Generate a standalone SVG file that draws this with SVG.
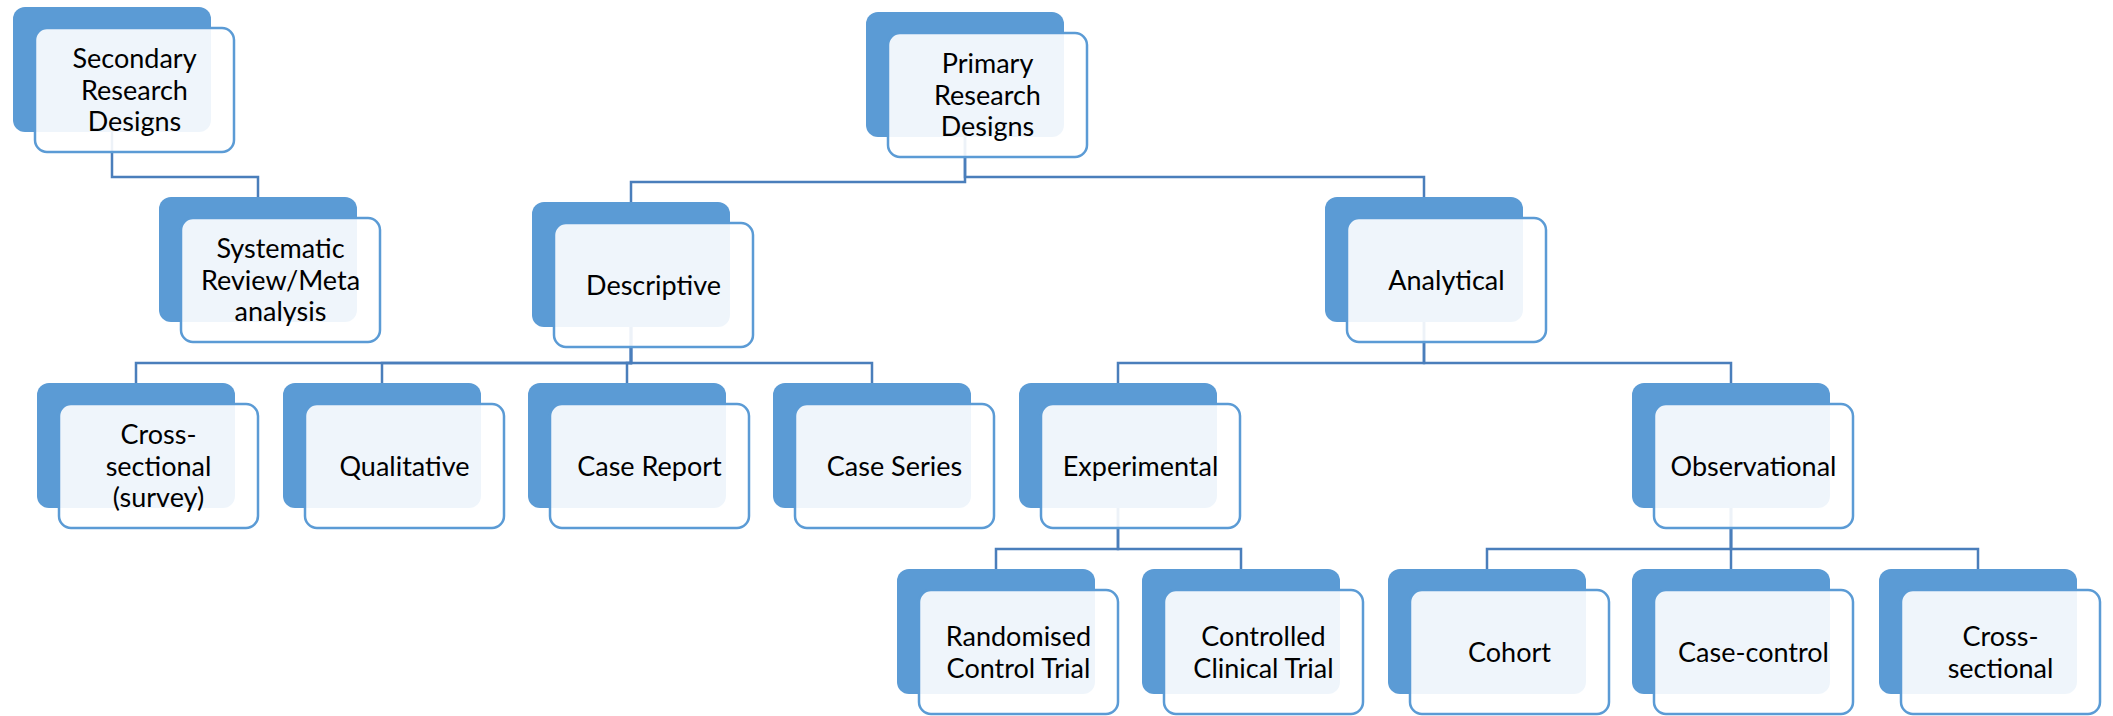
<svg xmlns="http://www.w3.org/2000/svg" width="2113" height="716" viewBox="0 0 2113 716">
<style>
.back{fill:#5B9BD5;}
.front{fill:#FFFFFF;fill-opacity:0.9;stroke:#5B9BD5;stroke-width:2.5;}
.lbl{font-family:Lato,"Liberation Sans",sans-serif;font-size:27px;fill:#000000;text-anchor:middle;}
.conn{fill:none;stroke:#4A7EBB;stroke-width:2.5;}
</style>
<rect width="2113" height="716" fill="#FFFFFF"/>
<g id="connectors">
<path class="conn" d="M112,132 V177 H258 V197"/>
<path class="conn" d="M965,137 V182 H631 V202"/>
<path class="conn" d="M965,137 V177 H1424 V197"/>
<path class="conn" d="M631,327 V363 H136 V383"/>
<path class="conn" d="M631,327 V363 H382 V383"/>
<path class="conn" d="M631,327 V363 H627 V383"/>
<path class="conn" d="M631,327 V363 H872 V383"/>
<path class="conn" d="M1424,322 V363 H1118 V383"/>
<path class="conn" d="M1424,322 V363 H1731 V383"/>
<path class="conn" d="M1118,508 V549 H996 V569"/>
<path class="conn" d="M1118,508 V549 H1241 V569"/>
<path class="conn" d="M1731,508 V549 H1487 V569"/>
<path class="conn" d="M1731,508 V569"/>
<path class="conn" d="M1731,508 V549 H1978 V569"/>
</g>
<g id="secondary">
<rect class="back" x="13" y="7" width="198" height="125" rx="12"/>
<rect class="front" x="35" y="28" width="199" height="124" rx="12"/>
<text class="lbl" x="134.5"><tspan x="134.5" y="68">Secondary</tspan><tspan x="134.5" y="99.5">Research</tspan><tspan x="134.5" y="131">Designs</tspan></text>
</g>
<g id="primary">
<rect class="back" x="866" y="12" width="198" height="125" rx="12"/>
<rect class="front" x="888" y="33" width="199" height="124" rx="12"/>
<text class="lbl"><tspan x="987.5" y="73">Primary</tspan><tspan x="987.5" y="104.5">Research</tspan><tspan x="987.5" y="136">Designs</tspan></text>
</g>
<g id="systematic">
<rect class="back" x="159" y="197" width="198" height="125" rx="12"/>
<rect class="front" x="181" y="218" width="199" height="124" rx="12"/>
<text class="lbl"><tspan x="280.5" y="258">Systematic</tspan><tspan x="280.5" y="289.5">Review/Meta</tspan><tspan x="280.5" y="321">analysis</tspan></text>
</g>
<g id="descriptive">
<rect class="back" x="532" y="202" width="198" height="125" rx="12"/>
<rect class="front" x="554" y="223" width="199" height="124" rx="12"/>
<text class="lbl" x="653.5" y="294.5">Descriptive</text>
</g>
<g id="analytical">
<rect class="back" x="1325" y="197" width="198" height="125" rx="12"/>
<rect class="front" x="1347" y="218" width="199" height="124" rx="12"/>
<text class="lbl" x="1446.5" y="289.5">Analytical</text>
</g>
<g id="cross-sectional-survey">
<rect class="back" x="37" y="383" width="198" height="125" rx="12"/>
<rect class="front" x="59" y="404" width="199" height="124" rx="12"/>
<text class="lbl"><tspan x="158.5" y="444">Cross-</tspan><tspan x="158.5" y="475.5">sectional</tspan><tspan x="158.5" y="507">(survey)</tspan></text>
</g>
<g id="qualitative">
<rect class="back" x="283" y="383" width="198" height="125" rx="12"/>
<rect class="front" x="305" y="404" width="199" height="124" rx="12"/>
<text class="lbl" x="404.5" y="475.5">Qualitative</text>
</g>
<g id="case-report">
<rect class="back" x="528" y="383" width="198" height="125" rx="12"/>
<rect class="front" x="550" y="404" width="199" height="124" rx="12"/>
<text class="lbl" x="649.5" y="475.5">Case Report</text>
</g>
<g id="case-series">
<rect class="back" x="773" y="383" width="198" height="125" rx="12"/>
<rect class="front" x="795" y="404" width="199" height="124" rx="12"/>
<text class="lbl" x="894.5" y="475.5">Case Series</text>
</g>
<g id="experimental">
<rect class="back" x="1019" y="383" width="198" height="125" rx="12"/>
<rect class="front" x="1041" y="404" width="199" height="124" rx="12"/>
<text class="lbl" x="1140.5" y="475.5">Experimental</text>
</g>
<g id="observational">
<rect class="back" x="1632" y="383" width="198" height="125" rx="12"/>
<rect class="front" x="1654" y="404" width="199" height="124" rx="12"/>
<text class="lbl" x="1753.5" y="475.5">Observational</text>
</g>
<g id="randomised-control-trial">
<rect class="back" x="897" y="569" width="198" height="125" rx="12"/>
<rect class="front" x="919" y="590" width="199" height="124" rx="12"/>
<text class="lbl"><tspan x="1018.5" y="646">Randomised</tspan><tspan x="1018.5" y="677.5">Control Trial</tspan></text>
</g>
<g id="controlled-clinical-trial">
<rect class="back" x="1142" y="569" width="198" height="125" rx="12"/>
<rect class="front" x="1164" y="590" width="199" height="124" rx="12"/>
<text class="lbl"><tspan x="1263.5" y="646">Controlled</tspan><tspan x="1263.5" y="677.5">Clinical Trial</tspan></text>
</g>
<g id="cohort">
<rect class="back" x="1388" y="569" width="198" height="125" rx="12"/>
<rect class="front" x="1410" y="590" width="199" height="124" rx="12"/>
<text class="lbl" x="1509.5" y="661.5">Cohort</text>
</g>
<g id="case-control">
<rect class="back" x="1632" y="569" width="198" height="125" rx="12"/>
<rect class="front" x="1654" y="590" width="199" height="124" rx="12"/>
<text class="lbl" x="1753.5" y="661.5">Case-control</text>
</g>
<g id="cross-sectional">
<rect class="back" x="1879" y="569" width="198" height="125" rx="12"/>
<rect class="front" x="1901" y="590" width="199" height="124" rx="12"/>
<text class="lbl"><tspan x="2000.5" y="646">Cross-</tspan><tspan x="2000.5" y="677.5">sectional</tspan></text>
</g>
</svg>
